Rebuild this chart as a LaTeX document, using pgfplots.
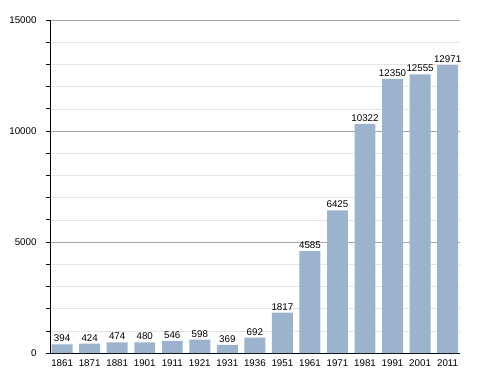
\documentclass[border=0pt]{standalone}
\usepackage{pgfplots}
\pgfplotsset{compat=1.18}
\usepackage{fontspec}
\setmainfont{Liberation Sans}
\definecolor{barblue}{RGB}{156,179,206}
\begin{document}
\begin{tikzpicture}
\begin{axis}[
  scale only axis,
  width=410bp, height=333bp,
  xmin=-0.44, xmax=14.45,
  ymin=0, ymax=15000,
  axis x line*=bottom,
  axis y line*=left,
  axis line style={black, line width=0.8pt},
  xtick=data,
  xticklabels={1861,1871,1881,1901,1911,1921,1931,1936,1951,1961,1971,1981,1991,2001,2011},
  x tick style={draw=none},
  ytick={0,5000,10000,15000},
  minor ytick={1000,2000,3000,4000,6000,7000,8000,9000,11000,12000,13000,14000},
  tick align=outside,
  y tick style={black, line width=0.6pt},
  major tick length=4bp, minor tick length=4bp,
  ymajorgrids, yminorgrids,
  major grid style={gray!70, line width=0.5pt},
  minor grid style={gray!20, line width=0.5pt},
  scaled y ticks=false,
  /pgf/number format/assume math mode=true,
  yticklabel style={/pgf/number format/1000 sep={}, font=\fontsize{9.8}{11}\selectfont, xshift=-6bp},
  xticklabel style={font=\fontsize{9.8}{11}\selectfont, yshift=1bp},
  ybar, bar width=0.76,
  nodes near coords,
  nodes near coords style={font=\fontsize{9.8}{11}\selectfont, black, /pgf/number format/1000 sep={}, yshift=-1bp},
  clip=false,
]
\addplot[fill=barblue, draw=none] coordinates {
(0,394) (1,424) (2,474) (3,480) (4,546) (5,598) (6,369) (7,692)
(8,1817) (9,4585) (10,6425) (11,10322) (12,12350) (13,12555) (14,12971)};
\end{axis}
\path ([xshift=-50bp,yshift=-20bp]current axis.south west) rectangle ([xshift=28bp,yshift=20bp]current axis.north east);
\end{tikzpicture}
\end{document}
